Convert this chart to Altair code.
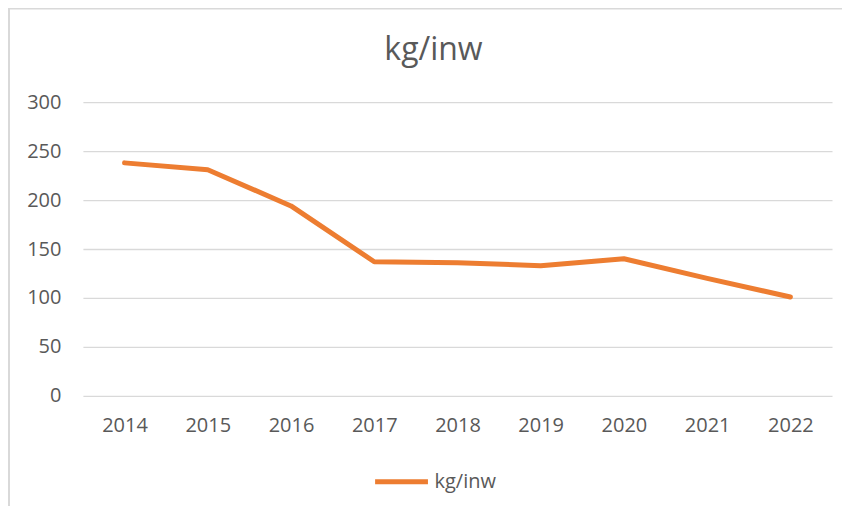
import altair as alt
import pandas as pd

years = ["2014", "2015", "2016", "2017", "2018", "2019", "2020", "2021", "2022"]
kg_inw = [238, 231, 194, 137, 136, 133, 140, 120, 101]
series_name = "kg/inw"
y_ticks = [0, 50, 100, 150, 200, 250, 300]

df = pd.DataFrame({"jaar": years, "waarde": kg_inw, "reeks": [series_name] * len(years)})

FONT = "Open Sans"
GRAY = "#595959"

line = alt.Chart(df).mark_line(strokeWidth=5, strokeCap="round", strokeJoin="round").encode(
    x=alt.X("jaar:N", sort=years, title=None,
            scale=alt.Scale(type="point", padding=0.5),
            axis=alt.Axis(labelAngle=0, domain=False, ticks=False, grid=False,
                          labelPadding=20, labelFontSize=20, labelColor=GRAY, labelFont=FONT)),
    y=alt.Y("waarde:Q", title=None,
            scale=alt.Scale(domain=[0, 300], nice=False, zero=True),
            axis=alt.Axis(values=y_ticks, domain=False, ticks=False, grid=True,
                          gridColor="#D9D9D9", gridWidth=1.3, labelPadding=22,
                          labelFontSize=20, labelColor=GRAY, labelFont=FONT)),
    color=alt.Color("reeks:N", scale=alt.Scale(domain=[series_name], range=["#ED7D31"]),
                    legend=alt.Legend(title=None, orient="none", legendX=290, legendY=351,
                                      symbolType="stroke", symbolSize=2800, symbolStrokeWidth=5,
                                      labelFontSize=20, labelColor=GRAY, labelFont=FONT,
                                      labelOffset=4, padding=0)),
)

frame_df = pd.DataFrame({"titel": [series_name]})
left_border = alt.Chart(frame_df).mark_rule(color="#D9D9D9", strokeWidth=2).encode(
    x=alt.value(-74), y=alt.value(-94), y2=alt.value(420)
)
top_border = alt.Chart(frame_df).mark_rule(color="#D9D9D9", strokeWidth=1.5).encode(
    x=alt.value(-75), x2=alt.value(770), y=alt.value(-93.5)
)
title_text = alt.Chart(frame_df).mark_text(
    font=FONT, fontSize=32, color=GRAY, align="center", baseline="alphabetic"
).encode(
    text="titel:N", x=alt.value(351), y=alt.value(-42)
)

chart = alt.layer(left_border, top_border, title_text, line).properties(
    width=750,
    height=294,
    background="white",
    autosize=alt.AutoSizeParams(type="none"),
    padding={"left": 75, "top": 94, "right": 10, "bottom": 110},
).configure_view(strokeWidth=0, stroke="transparent")

chart.save("out.html", embed_options={"renderer": "svg", "actions": False})
